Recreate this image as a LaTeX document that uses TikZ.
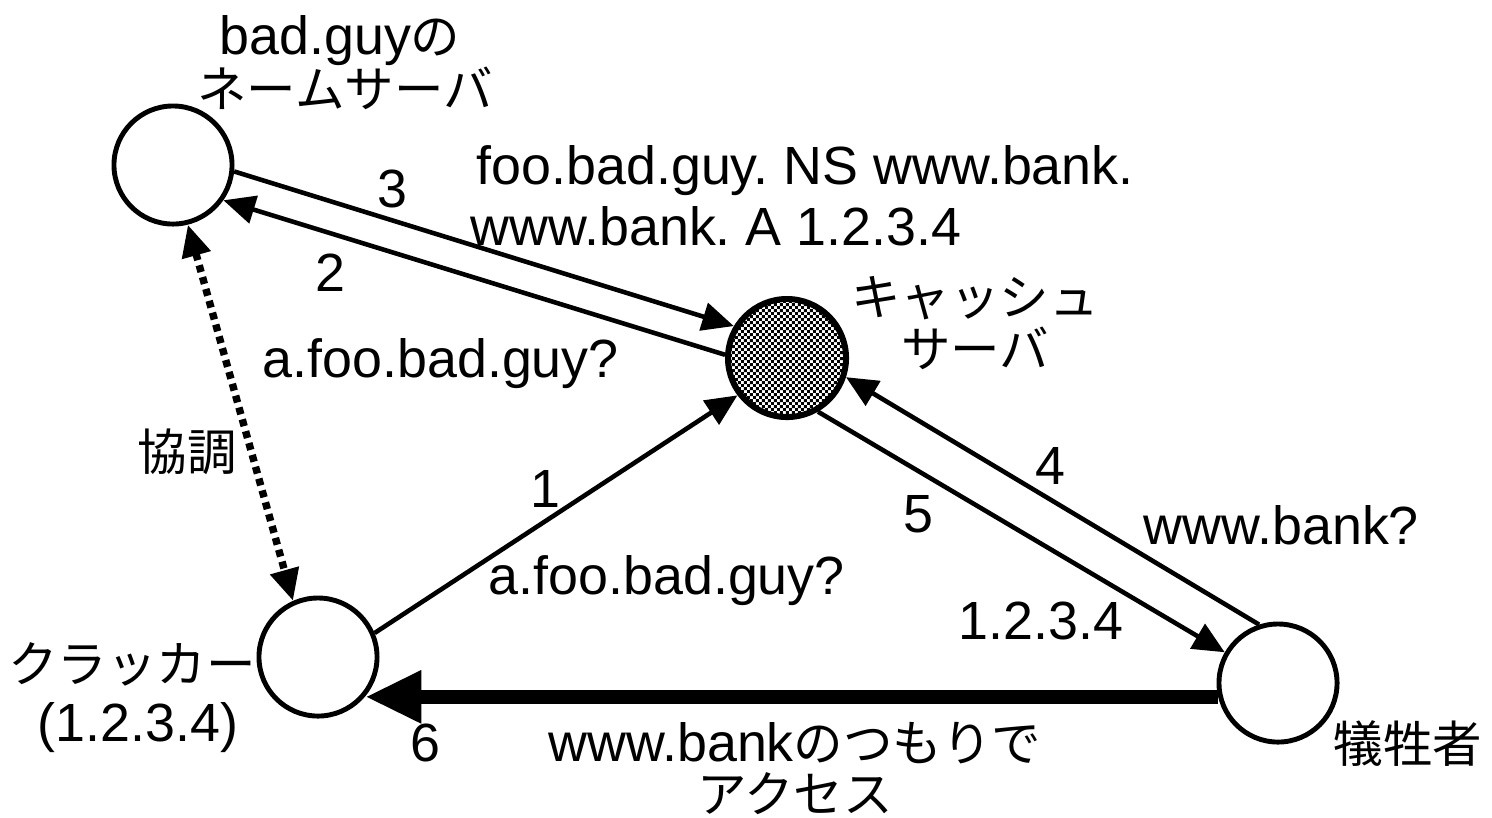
\documentclass[tikz,border=0pt]{standalone}
\usepackage{fontspec}
\setmainfont{Liberation Sans}
\newfontfamily\jpfont[Scale=0.92]{Noto Sans CJK JP}
\usetikzlibrary{arrows.meta,patterns}
\frenchspacing
% fine checkerboard for the cache server
\pgfdeclarepatternformonly{finecheck}{\pgfpointorigin}{\pgfqpoint{1.7pt}{1.7pt}}{\pgfqpoint{1.7pt}{1.7pt}}{%
  \pgfpathrectangle{\pgfpointorigin}{\pgfqpoint{0.85pt}{0.85pt}}%
  \pgfpathrectangle{\pgfqpoint{0.85pt}{0.85pt}}{\pgfqpoint{0.85pt}{0.85pt}}%
  \pgfusepath{fill}}
\begin{document}
\begin{tikzpicture}[x=0.01cm,y=-0.01cm,
  host/.style={circle,draw,line width=1.4pt,minimum size=1.18cm,inner sep=0pt},
  msg/.style={line width=1.3pt,-{Triangle[length=9pt,width=8pt]}},
  lbl/.style={inner sep=0pt,anchor=base,font=\fontsize{15.3}{18}\selectfont},
  lbll/.style={lbl,anchor=base west}]
  \useasboundingbox (0,0) rectangle (1492,817);
  % hosts
  \node[host] (badns) at (173,165) {};
  \node[host,line width=1.7pt,pattern=finecheck] (cache) at (787,358) {};
  \node[host] (cracker) at (318,657) {};
  \node[host] (victim) at (1278,683) {};
  % messages
  \draw[msg] (badns.-6) -- (cache.149);
  \draw[msg] (cache.177) -- (badns.-35);
  \draw[msg] (cracker.23) -- (cache.217);
  \draw[msg] (victim.108) -- (cache.-18);
  \draw[msg] (cache.-60) -- (victim.150);
  \draw[line width=4pt,-{Triangle[length=16pt,width=14pt]}] (victim.193) -- (victim.193 -| cracker.-40);
  \draw[line width=2.1pt,dash pattern=on 2pt off 1.5pt,
    {Triangle[length=9pt,width=8pt]}-{Triangle[length=9pt,width=8pt]}] (badns.-76) -- (cracker.114);
  % labels
  \node[lbl] (nsa) at (340,54) {bad.guy{\jpfont の}};
  \node[lbl] (nsb) at (345,107) {\jpfont ネームサーバ};
  \node[lbl] (cachea) at (975,315) {\jpfont キャッシュ};
  \node[lbl] (cacheb) at (975,367) {\jpfont サーバ};
  \node[lbl] (crackera) at (132,682) {\jpfont クラッカー};
  \node[lbl] (crackerb) at (138,741) {(1.2.3.4)};
  \node[lbl] (victima) at (1408,762) {\jpfont 犠牲者};
  \node[lbl] (coop) at (187,470) {\jpfont 協調};
  \node[lbl] (n1) at (545,507) {1};
  \node[lbl] (n2) at (330,291) {2};
  \node[lbl] (n3) at (392,207) {3};
  \node[lbl] (n4) at (1050,484) {4};
  \node[lbl] (n5) at (918,532) {5};
  \node[lbl] (n6) at (425,761) {6};
  \node[lbll] (ansa) at (476,184) {foo.bad.guy. NS www.bank.};
  \node[lbll] (ansb) at (470,245) {www.bank. A 1.2.3.4};
  \node[lbll] (qry2) at (262,377) {a.foo.bad.guy?};
  \node[lbll] (qry1) at (488,594) {a.foo.bad.guy?};
  \node[lbll] (qry4) at (1143,544) {www.bank?};
  \node[lbll] (ans5) at (958,639) {1.2.3.4};
  \node[lbl] (acca) at (795,761) {www.bank{\jpfont のつもりで}};
  \node[lbl] (accb) at (795,812) {\jpfont アクセス};
\end{tikzpicture}
\end{document}
